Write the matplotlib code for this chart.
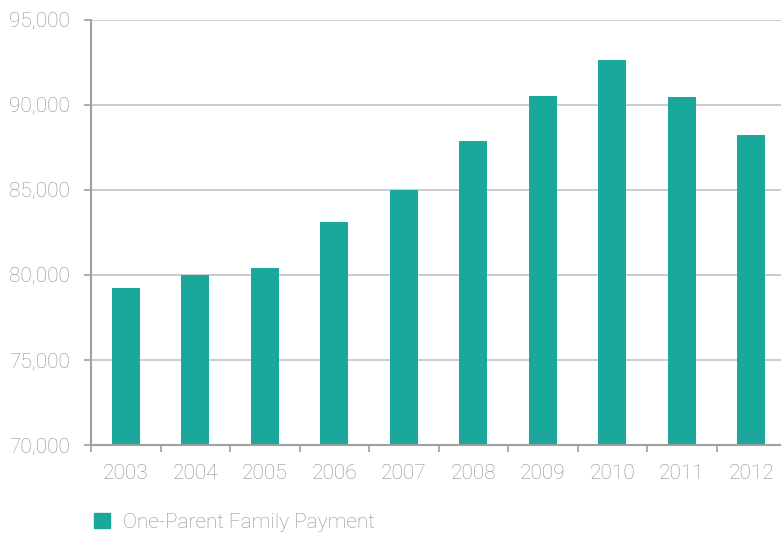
import matplotlib
matplotlib.use("Agg")
import matplotlib.pyplot as plt
from matplotlib.ticker import FuncFormatter, FixedLocator
from matplotlib.patches import Rectangle

years = ["2003", "2004", "2005", "2006", "2007", "2008", "2009", "2010", "2011", "2012"]
values = [79220, 79980, 80400, 83100, 85000, 87860, 90500, 92620, 90450, 88210]
yticks = [70000, 75000, 80000, 85000, 90000, 95000]
series_name = "One-Parent Family Payment"

bar_color = "#1ba89c"
text_color = "#8f8f8f"
spine_color = "#a0a0a0"
grid_color = "#c4c4c4"

plt.rcParams['font.family'] = ['Roboto', 'DejaVu Sans']

W, H = 781, 536
fig = plt.figure(figsize=(W / 100, H / 100), dpi=100)
ax = fig.add_axes([91 / W, 1 - 445 / H, (786 - 91) / W, (445 - 19.5) / H])

x = list(range(len(years)))
ax.bar(x, values, width=0.4, color=bar_color, zorder=3)

ax.set_xlim(-0.5, len(years) - 0.5)
ax.set_ylim(70000, 95000)
ax.set_yticks(yticks)
ax.yaxis.set_major_formatter(FuncFormatter(lambda v, p: f"{int(v):,}"))
ax.grid(axis='y', color=grid_color, linewidth=1.2, zorder=0)

# x ticks at category boundaries, labels at centers
ax.xaxis.set_major_locator(FixedLocator([i - 0.5 for i in range(len(years) + 1)]))
ax.xaxis.set_minor_locator(FixedLocator(x))
ax.set_xticklabels([])
ax.set_xticklabels(years, minor=True)
ax.tick_params(axis='x', which='major', length=5, width=1.2, color=spine_color, direction='out')
ax.tick_params(axis='x', which='minor', length=0, pad=14, labelsize=15, labelcolor=text_color)
ax.tick_params(axis='y', length=5, width=1.2, color=spine_color, direction='out', pad=10,
               labelsize=15, labelcolor=text_color)
for lbl in ax.get_xticklabels(minor=True) + ax.get_yticklabels():
    lbl.set_fontweight('light')

for s in ['top', 'right']:
    ax.spines[s].set_visible(False)
for s in ['left', 'bottom']:
    ax.spines[s].set_color(spine_color)
    ax.spines[s].set_linewidth(1.5)
    ax.spines[s].set_zorder(4)

# legend
fig.patches.append(Rectangle((94 / W, 1 - 528 / H), 16 / W, 15 / H, transform=fig.transFigure,
                             color=bar_color, figure=fig))
fig.text(123 / W, 1 - 522 / H, series_name, color=text_color, fontsize=15,
         fontweight='light', va='center', ha='left')

fig.savefig("out.png", dpi=100)
